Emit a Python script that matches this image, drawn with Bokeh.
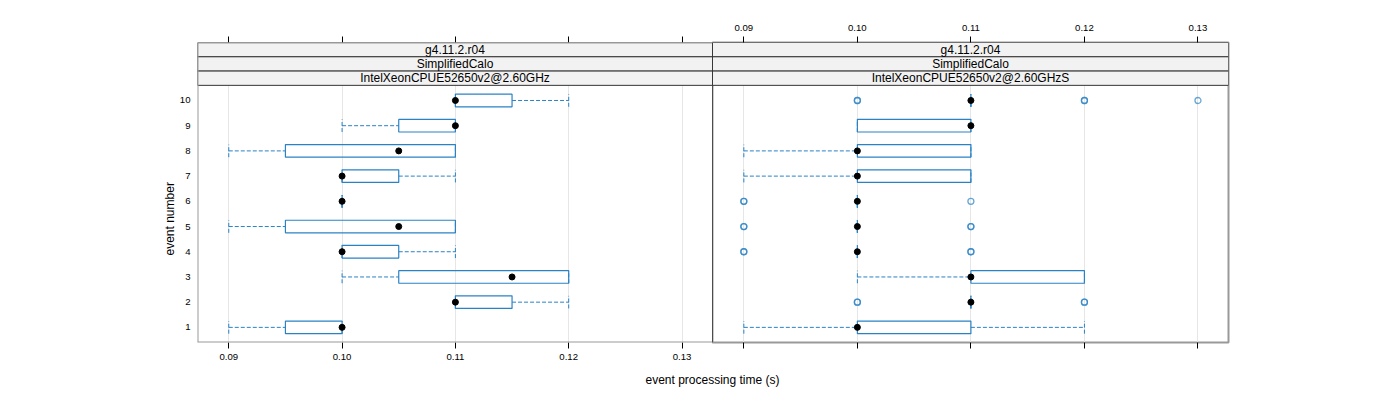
from bokeh.plotting import figure
from bokeh.models import (Range1d, FixedTicker, LinearAxis, Span, Title,
                          ColumnDataSource, Grid, PrintfTickFormatter)
from bokeh.layouts import column, row
from bokeh.embed import file_html
from bokeh.resources import INLINE
from bokeh.core.properties import value

# ---------------- data ----------------
events = [1, 2, 3, 4, 5, 6, 7, 8, 9, 10]
x_ticks = [0.09, 0.10, 0.11, 0.12, 0.13]

strip_top = "g4.11.2.r04"
strip_mid = "SimplifiedCalo"
strip_left = "IntelXeonCPUE52650v2@2.60GHz"
strip_right = "IntelXeonCPUE52650v2@2.60GHzS"
x_label = "event processing time (s)"
y_label = "event number"

# left panel: whisker low, Q1, median, Q3, whisker high (events 1..10)
left_lo = [0.09, 0.11, 0.10, 0.10, 0.09, 0.10, 0.10, 0.09, 0.10, 0.11]
left_q1 = [0.095, 0.11, 0.105, 0.10, 0.095, 0.10, 0.10, 0.095, 0.105, 0.11]
left_med = [0.10, 0.11, 0.115, 0.10, 0.105, 0.10, 0.10, 0.105, 0.11, 0.11]
left_q3 = [0.10, 0.115, 0.12, 0.105, 0.11, 0.10, 0.105, 0.11, 0.11, 0.115]
left_hi = [0.10, 0.12, 0.12, 0.11, 0.11, 0.10, 0.11, 0.11, 0.11, 0.12]
left_out_event = []
left_out_time = []

# right panel
right_lo = [0.09, 0.11, 0.10, 0.10, 0.10, 0.10, 0.09, 0.09, 0.10, 0.11]
right_q1 = [0.10, 0.11, 0.11, 0.10, 0.10, 0.10, 0.10, 0.10, 0.10, 0.11]
right_med = [0.10, 0.11, 0.11, 0.10, 0.10, 0.10, 0.10, 0.10, 0.11, 0.11]
right_q3 = [0.11, 0.11, 0.12, 0.10, 0.10, 0.10, 0.11, 0.11, 0.11, 0.11]
right_hi = [0.12, 0.11, 0.12, 0.10, 0.10, 0.10, 0.11, 0.11, 0.11, 0.11]
right_out_event = [2, 2, 2, 2, 4, 4, 4, 4, 5, 5, 5, 5, 6, 6, 6, 10, 10, 10, 10, 10]
right_out_time = [0.10, 0.10, 0.12, 0.12, 0.09, 0.09, 0.11, 0.11, 0.09, 0.09,
                  0.11, 0.11, 0.09, 0.09, 0.11, 0.10, 0.10, 0.12, 0.12, 0.13]

# ---------------- style / layout ----------------
FONT = "Liberation Sans"
BLUE = "#2a82c4"
BORDER = "#999999"
X0, X1 = 0.08724, 0.13269
Y0, Y1 = 0.4, 12.30
DATA_TOP = 10.6
STRIP_H = (Y1 - DATA_TOP) / 3.0
BOX_H = 0.5
FRAME_H = 300
LEFT_MARGIN = 197
TOP_MARGIN = 42
BOTTOM_MARGIN = 24
W_LEFT, W_RIGHT = 515, 516


def style_x_axis(ax, labels):
    ax.ticker = FixedTicker(ticks=x_ticks)
    ax.axis_line_color = None
    ax.major_tick_in = 0
    ax.major_tick_out = 6
    ax.major_tick_line_color = "#000000"
    ax.minor_tick_line_color = None
    ax.major_label_text_font = FONT
    ax.major_label_text_font_size = "9.6px"
    ax.major_label_text_color = "#000000"
    ax.formatter = PrintfTickFormatter(format="%.2f" if labels else "")


def make_panel(lo, q1, med, q3, hi, out_ev, out_t, strip_bottom_text,
               is_left, frame_w):
    p = figure(frame_width=frame_w, frame_height=FRAME_H,
               x_range=Range1d(X0, X1), y_range=Range1d(Y0, Y1),
               x_axis_type=None, y_axis_type=None,
               output_backend="svg", toolbar_location=None,
               min_border_left=LEFT_MARGIN if is_left else 0,
               min_border_right=0 if is_left else 20,
               min_border_top=TOP_MARGIN, min_border_bottom=BOTTOM_MARGIN,
               background_fill_color="white", border_fill_color="white")

    below = LinearAxis()
    style_x_axis(below, labels=is_left)
    below.major_label_standoff = 5
    p.add_layout(below, "below")
    above = LinearAxis()
    style_x_axis(above, labels=not is_left)
    above.major_label_standoff = 6
    p.add_layout(above, "above")

    p.add_layout(Grid(dimension=0, ticker=FixedTicker(ticks=x_ticks),
                      grid_line_color="#e6e6e6", grid_line_width=1))

    if is_left:
        yax = LinearAxis(ticker=FixedTicker(ticks=events))
        yax.axis_line_color = None
        yax.major_tick_in = 0
        yax.major_tick_out = 0
        yax.minor_tick_line_color = None
        yax.major_label_standoff = 7
        yax.major_label_text_font = FONT
        yax.major_label_text_font_size = "9.6px"
        yax.major_label_text_color = "#000000"
        p.add_layout(yax, "left")
        p.add_layout(Title(text=y_label, align="left", offset=87, standoff=0,
                           text_font=FONT, text_font_size="12px",
                           text_font_style="normal", text_color="black"),
                     "left")

    src = ColumnDataSource(dict(
        ev=events, lo=lo, q1=q1, med=med, q3=q3, hi=hi,
        ev_lo=[e - BOX_H / 2 for e in events],
        ev_hi=[e + BOX_H / 2 for e in events]))

    # whiskers (dashed)
    p.segment(x0="lo", y0="ev", x1="q1", y1="ev", source=src,
              line_color=BLUE, line_width=1, line_dash="4 2")
    p.segment(x0="q3", y0="ev", x1="hi", y1="ev", source=src,
              line_color=BLUE, line_width=1, line_dash="4 2")
    # whisker caps
    p.segment(x0="lo", y0="ev_lo", x1="lo", y1="ev_hi", source=src,
              line_color=BLUE, line_width=1, line_dash="4 2")
    p.segment(x0="hi", y0="ev_lo", x1="hi", y1="ev_hi", source=src,
              line_color=BLUE, line_width=1, line_dash="4 2")
    # boxes
    p.hbar(y="ev", left="q1", right="q3", height=BOX_H, source=src,
           fill_color=None, line_color=BLUE, line_width=1.2)
    # outliers
    if out_ev:
        p.scatter(x=out_t, y=out_ev, marker="circle", size=6,
                  fill_color=None, line_color=BLUE, line_width=1.3,
                  line_alpha=0.7)
    # medians
    p.scatter(x="med", y="ev", source=src, marker="circle", size=6,
              fill_color="black", line_color="black")

    # strips
    bottoms = [DATA_TOP + 2 * STRIP_H, DATA_TOP + STRIP_H, DATA_TOP]
    tops = [b + STRIP_H for b in bottoms]
    p.quad(left=[X0] * 3, right=[X1] * 3, bottom=bottoms, top=tops,
           fill_color="#f2f2f2", line_color="#333333", line_width=1)
    p.text(x=[(X0 + X1) / 2] * 3, y=[b + STRIP_H / 2 for b in bottoms],
           text=[strip_top, strip_mid, strip_bottom_text],
           text_font=value(FONT), text_font_size="12px",
           text_align="center", text_baseline="middle", text_color="black")

    if is_left:
        # outer border on three sides; the right side is the shared divider
        p.outline_line_color = None
        p.add_layout(Span(location=X0, dimension="height",
                          line_color=BORDER, line_width=2))
        p.add_layout(Span(location=Y0, dimension="width",
                          line_color=BORDER, line_width=2))
        p.add_layout(Span(location=Y1, dimension="width",
                          line_color=BORDER, line_width=2))
    else:
        p.outline_line_color = BORDER
        p.outline_line_width = 2
        p.add_layout(Span(location=X0, dimension="height",
                          line_color="black", line_width=1))
    return p


p_left = make_panel(left_lo, left_q1, left_med, left_q3, left_hi,
                    left_out_event, left_out_time, strip_left, True, W_LEFT)
p_right = make_panel(right_lo, right_q1, right_med, right_q3, right_hi,
                     right_out_event, right_out_time, strip_right, False, W_RIGHT)

# x-axis title centred under both panels
total_w = LEFT_MARGIN + W_LEFT + W_RIGHT + 20
p_xlab = figure(width=total_w, height=30, x_range=Range1d(0, total_w),
                y_range=Range1d(0, 30), x_axis_type=None, y_axis_type=None,
                min_border=0, output_backend="svg", toolbar_location=None)
p_xlab.outline_line_color = None
p_xlab.text(x=[LEFT_MARGIN + W_LEFT], y=[17], text=[x_label],
            text_font=value(FONT), text_font_size="12px",
            text_align="center", text_baseline="middle", text_color="black")

layout = column(row(p_left, p_right), p_xlab)
open("out.html", "w").write(file_html(layout, INLINE))
